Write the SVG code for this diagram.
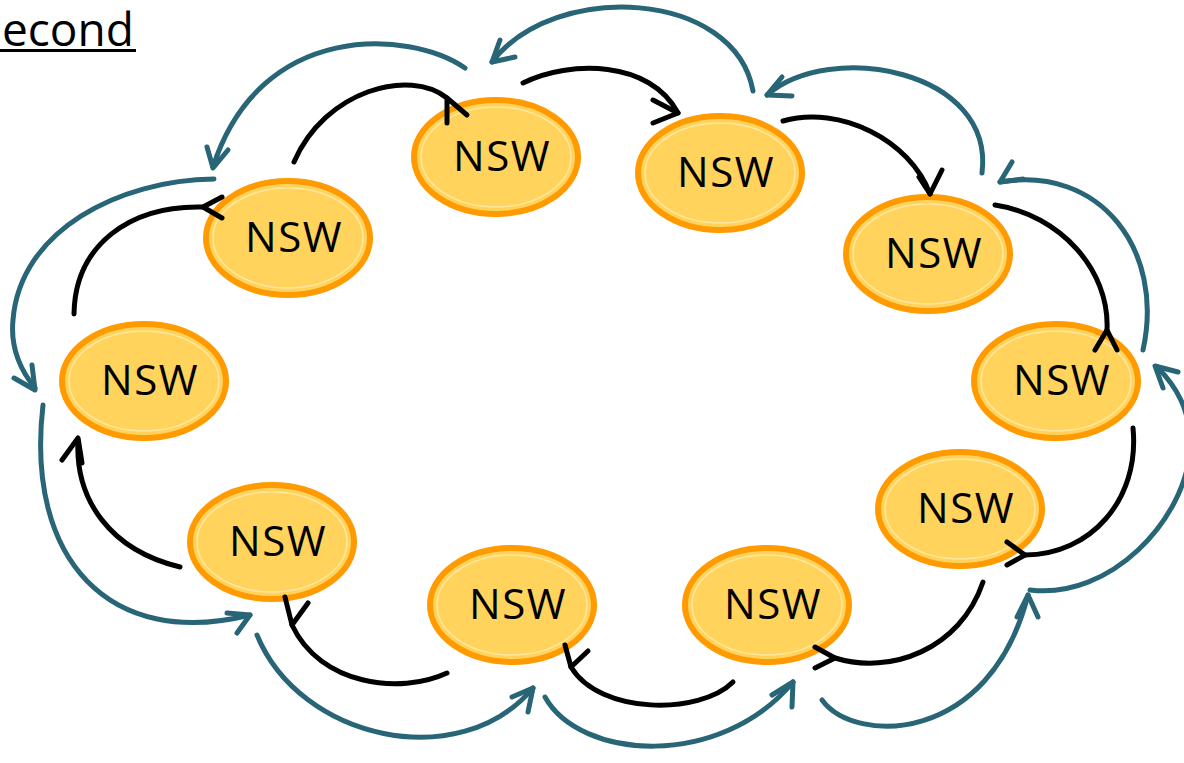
<svg xmlns="http://www.w3.org/2000/svg" width="1184" height="763" viewBox="0 0 1184 763">
<style>
.ring{fill:#FFD35C;stroke:#FF9A00;stroke-width:6}
.inner{fill:none;stroke:#FFE79E;stroke-width:1.5}
.lbl{font-family:"Open Sans","Noto Sans",sans-serif;font-size:42px;letter-spacing:1.5px;fill:#000;text-anchor:middle}
.blk{fill:none;stroke:#000;stroke-width:5;stroke-linecap:round;stroke-linejoin:round}
.tl{fill:none;stroke:#276577;stroke-width:5;stroke-linecap:round;stroke-linejoin:round}
</style>
<rect width="1184" height="763" fill="#fff"/>
<text x="2" y="46" font-family="Open Sans, Noto Sans, sans-serif" font-size="46" fill="#000">econd</text>
<rect x="0" y="49" width="136" height="3" fill="#000"/>

<g id="n1"><ellipse class="ring" cx="496" cy="157" rx="82" ry="57"/><ellipse class="inner" cx="496" cy="157" rx="75" ry="50"/><text class="lbl" x="502" y="171">NSW</text></g>
<g id="n2"><ellipse class="ring" cx="720" cy="173" rx="82" ry="57"/><ellipse class="inner" cx="720" cy="173" rx="75" ry="50"/><text class="lbl" x="726" y="187">NSW</text></g>
<g id="n3"><ellipse class="ring" cx="928" cy="254" rx="82" ry="57"/><ellipse class="inner" cx="928" cy="254" rx="75" ry="50"/><text class="lbl" x="934" y="268">NSW</text></g>
<g id="n4"><ellipse class="ring" cx="1056" cy="381" rx="82" ry="57"/><ellipse class="inner" cx="1056" cy="381" rx="75" ry="50"/><text class="lbl" x="1062" y="395">NSW</text></g>
<g id="n5"><ellipse class="ring" cx="960" cy="509" rx="82" ry="57"/><ellipse class="inner" cx="960" cy="509" rx="75" ry="50"/><text class="lbl" x="966" y="523">NSW</text></g>
<g id="n6"><ellipse class="ring" cx="767" cy="605" rx="82" ry="57"/><ellipse class="inner" cx="767" cy="605" rx="75" ry="50"/><text class="lbl" x="773" y="619">NSW</text></g>
<g id="n7"><ellipse class="ring" cx="512" cy="605" rx="82" ry="57"/><ellipse class="inner" cx="512" cy="605" rx="75" ry="50"/><text class="lbl" x="518" y="619">NSW</text></g>
<g id="n8"><ellipse class="ring" cx="272" cy="542" rx="82" ry="57"/><ellipse class="inner" cx="272" cy="542" rx="75" ry="50"/><text class="lbl" x="278" y="556">NSW</text></g>
<g id="n9"><ellipse class="ring" cx="144" cy="381" rx="82" ry="57"/><ellipse class="inner" cx="144" cy="381" rx="75" ry="50"/><text class="lbl" x="150" y="395">NSW</text></g>
<g id="n10"><ellipse class="ring" cx="288" cy="238" rx="82" ry="57"/><ellipse class="inner" cx="288" cy="238" rx="75" ry="50"/><text class="lbl" x="294" y="252">NSW</text></g>

<g id="connectors">
<g id="black">
<path class="blk" d="M294,162 C325,90 410,68 447,98"/><polyline class="blk" points="447,123 447,98 467,115"/>
<path class="blk" d="M523,83 C570,60 650,60 678,113"/><polyline class="blk" points="653,100 678,113 653,123"/>
<path class="blk" d="M783,121 C840,105 910,140 930,194"/><polyline class="blk" points="919,177 930,194 942,170"/>
<path class="blk" d="M995,205 C1060,215 1110,270 1107,330"/><polyline class="blk" points="1095,350 1107,330 1117,350"/>
<path class="blk" d="M1133,428 C1140,500 1090,555 1025,555"/><polyline class="blk" points="1007,542 1025,555 1007,565"/>
<path class="blk" d="M983,582 C960,650 890,675 835,658"/><polyline class="blk" points="815,647 835,658 815,668"/>
<path class="blk" d="M733,682 C700,715 600,715 571,667"/><polyline class="blk" points="565,645 571,667 588,651"/>
<path class="blk" d="M447,673 C400,695 320,685 292,625"/><polyline class="blk" points="285,597 292,625 308,603"/>
<path class="blk" d="M180,567 C110,550 75,500 78,440"/><polyline class="blk" points="62,460 78,438 82,463"/>
<path class="blk" d="M74,314 C75,245 130,205 203,207"/><polyline class="blk" points="222,197 203,207 222,218"/>
</g>
<g id="teal">
<path class="tl" d="M465,68 C410,30 260,20 213,167"/><polyline class="tl" points="207,147 213,168 228,150"/>
<path class="tl" d="M753,91 C735,-10 555,-20 492,62"/><polyline class="tl" points="500,40 492,62 515,57"/>
<path class="tl" d="M982,173 C995,70 830,40 767,95"/><polyline class="tl" points="782,77 767,95 792,96"/>
<path class="tl" d="M1143,350 C1165,250 1100,165 1000,182"/><polyline class="tl" points="1012,162 1000,182 1023,179"/>
<path class="tl" d="M1030,590 C1110,600 1185,520 1190,450 C1192,410 1175,385 1157,367"/><polyline class="tl" points="1163,388 1155,366 1178,372"/>
<path class="tl" d="M822,700 C855,745 990,745 1028,595"/><polyline class="tl" points="1017,617 1028,595 1038,617"/>
<path class="tl" d="M545,697 C580,760 720,770 793,682"/><polyline class="tl" points="772,695 793,682 792,707"/>
<path class="tl" d="M257,635 C300,740 460,775 533,688"/><polyline class="tl" points="512,697 533,688 528,712"/>
<path class="tl" d="M43,405 C25,560 110,650 250,615"/><polyline class="tl" points="227,613 250,615 237,633"/>
<path class="tl" d="M214,179 C120,180 20,230 13,320 C10,350 22,372 35,388"/><polyline class="tl" points="14,378 35,390 32,365"/>
</g>
</g>
</svg>
